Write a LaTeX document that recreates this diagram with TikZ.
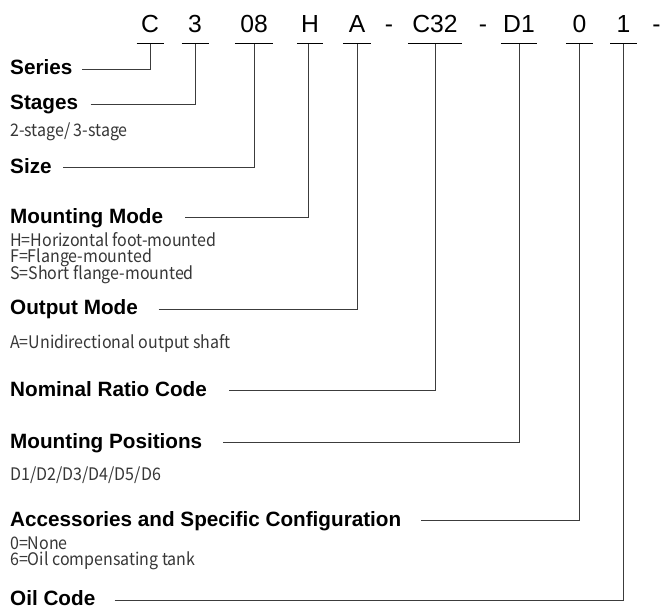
\documentclass[tikz,border=0pt]{standalone}
\usepackage{fontspec}
\setmainfont{Liberation Sans}
\newfontfamily\descfont{Noto Sans CJK SC}[FakeStretch=0.925]
\definecolor{linecol}{RGB}{60,60,60}
\definecolor{desccol}{RGB}{55,55,55}
\begin{document}
\begin{tikzpicture}[x=1pt,y=-1pt,
  codeletter/.style={font=\fontsize{24.7}{24.7}\selectfont, inner sep=0pt,
     text height=18pt, text depth=11pt, anchor=base, minimum width=#1},
  codedash/.style={font=\fontsize{24.7}{24.7}\selectfont, inner sep=0pt, anchor=base},
  uline/.style={draw=black, line width=0.9pt},
  conn/.style={draw=linecol, line width=0.9pt},
  lbl/.style={font=\bfseries\fontsize{20.7}{20.7}\selectfont, anchor=west,
     inner sep=0pt, text height=14.8pt, text depth=3.8pt},
  desc/.style={font=\descfont\fontsize{17.3}{17.3}\selectfont, text=desccol,
     anchor=base west, inner sep=0pt}]
\useasboundingbox (0,0) rectangle (660,610);
\fill[white] (0,0) rectangle (660,610);

% code line
\node[codeletter=26.6pt] (c1) at (150,32.7) {C};
\node[codeletter=26.6pt] (c2) at (195,32.7) {3};
\node[codeletter=38pt]   (c3) at (254,32.7) {08};
\node[codeletter=26pt]   (c4) at (310,32.7) {H};
\node[codeletter=27.7pt] (c5) at (357,32.7) {A};
\node[codedash]          (m1) at (389,32.7) {-};
\node[codeletter=53.7pt] (c6) at (435,32.7) {C32};
\node[codedash]          (m2) at (483,32.7) {-};
\node[codeletter=36pt]   (c7) at (519,32.7) {D1};
\node[codeletter=26.7pt] (c8) at (579.5,32.7) {0};
\node[codeletter=26.6pt] (c9) at (623.5,32.7) {1};
\node[codedash]          (m3) at (656.5,32.7) {-};
\foreach \c in {c1,c2,c3,c4,c5,c6,c7,c8,c9}
  \draw[uline] (\c.south west) -- (\c.south east);

% labels
\node[lbl] (l1) at (10,69)    {Series};
\node[lbl] (l2) at (10,104.3) {Stages};
\node[lbl] (l3) at (10,167.7) {Size};
\node[lbl] (l4) at (10,217.7) {Mounting Mode};
\node[lbl] (l5) at (10,309.3) {Output Mode};
\node[lbl] (l6) at (10,390.7) {Nominal Ratio Code};
\node[lbl] (l7) at (10,442.7) {Mounting Positions};
\node[lbl] (l8) at (10,520.7) {Accessories and Specific Configuration};
\node[lbl] (l9) at (10,600)   {Oil Code};

% descriptions
\node[desc] (d2)  at (10,136.7) {2-stage/ 3-stage};
\node[desc] (d4a) at (10,246.7) {H=Horizontal foot-mounted};
\node[desc] (d4b) at (10,262.7) {F=Flange-mounted};
\node[desc] (d4c) at (10,279)   {S=Short flange-mounted};
\node[desc] (d5)  at (10,348.3) {A=Unidirectional output shaft};
\node[desc] (d7)  at (10,480)   {D1/D2/D3/D4/D5/D6};
\node[desc] (d8a) at (10,549.3) {0=None};
\node[desc] (d8b) at (10,565.7) {6=Oil compensating tank};

% connector start points
\coordinate (s1) at (82,69);
\coordinate (s2) at (90.5,104.3);
\coordinate (s3) at (63.3,167.7);
\coordinate (s4) at (185.2,217.7);
\coordinate (s5) at (158.5,309.3);
\coordinate (s6) at (229.4,390.7);
\coordinate (s7) at (223,442.7);
\coordinate (s8) at (421,520.7);
\coordinate (s9) at (114.5,600);

\draw[conn] (s1) -| (c1.south);
\draw[conn] (s2) -| (c2.south);
\draw[conn] (s3) -| (c3.south);
\draw[conn] (s4) -| ([xshift=-1.7pt]c4.south);
\draw[conn] (s5) -| (c5.south);
\draw[conn] (s6) -| (c6.south);
\draw[conn] (s7) -| (c7.south);
\draw[conn] (s8) -| (c8.south);
\draw[conn] (s9) -| (c9.south);
\end{tikzpicture}
\end{document}
